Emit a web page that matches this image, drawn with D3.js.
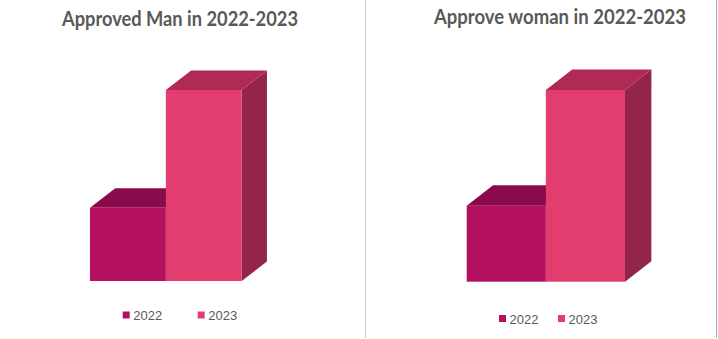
<!DOCTYPE html>
<html>
<head>
<meta charset="utf-8">
<script src="https://cdn.jsdelivr.net/npm/d3@7"></script>
<style>
  html, body { margin: 0; padding: 0; background: #fff; }
  svg { display: block; }
</style>
</head>
<body>
<svg id="chart" width="718" height="339"></svg>
<script>
// Years shown in each panel
const years = ["2022", "2023"];

// Approved counts per year
const menValues = [23, 60];
const womenValues = [25, 63];

// Panel titles
const titles = ["Approved Man in 2022-2023", "Approve woman in 2022-2023"];

// Colours: front, top and side faces per year
const frontColors = ["#b41160", "#e33c6e"];
const topColors = ["#8a0b4b", "#b02a55"];
const sideColors = ["#7a0a42", "#93244a"];

const svg = d3.select("#chart");

// Panel layout
const panels = [
  { values: menValues, title: titles[0], titleX: 180, titleW: 236, titleY: 26,
    x0: 90, x1: 241.7, base: 281, top: 90,
    legendY: 311.5, legendX: [122.7, 197.7] },
  { values: womenValues, title: titles[1], titleX: 560, titleW: 252, titleY: 24,
    x0: 466.7, x1: 625, base: 281.7, top: 90,
    legendY: 315, legendX: [499, 558] }
];

// Dividers
svg.append("line").attr("x1", 365.5).attr("x2", 365.5).attr("y1", 0).attr("y2", 338)
  .attr("stroke", "#d0d0d0").attr("stroke-width", 1);
svg.append("line").attr("x1", 716.5).attr("x2", 716.5).attr("y1", 0).attr("y2", 338)
  .attr("stroke", "#a8a8a8").attr("stroke-width", 1);

panels.forEach(p => {
  const g = svg.append("g");

  const x = d3.scaleBand().domain(years).range([p.x0, p.x1]).padding(0);
  const maxV = d3.max(p.values);
  const y = d3.scaleLinear().domain([0, maxV]).range([p.base, p.top]);

  const bw = x.bandwidth();
  const dx = bw * 0.333;
  const dy = dx * 0.775;

  years.forEach((yr, i) => {
    const v = p.values[i];
    const xl = x(yr), xr = xl + bw;
    const yt = y(v), yb = y(0);
    const bar = g.append("g");

    // side face
    bar.append("path")
      .attr("d", `M${xr},${yt} L${xr + dx},${yt - dy} L${xr + dx},${yb - dy} L${xr},${yb} Z`)
      .attr("fill", sideColors[i]);
    // top face
    bar.append("path")
      .attr("d", `M${xl},${yt} L${xl + dx},${yt - dy} L${xr + dx},${yt - dy} L${xr},${yt} Z`)
      .attr("fill", topColors[i]);
    // front face
    bar.append("rect")
      .attr("x", xl).attr("y", yt)
      .attr("width", bw).attr("height", yb - yt)
      .attr("fill", frontColors[i]);
  });

  // Title
  g.append("text")
    .attr("x", p.titleX).attr("y", p.titleY)
    .attr("text-anchor", "middle")
    .attr("font-family", "Lato, 'Liberation Sans', sans-serif")
    .attr("font-weight", "bold")
    .attr("font-size", 20)
    .attr("fill", "#595959")
    .attr("textLength", p.titleW)
    .attr("lengthAdjust", "spacingAndGlyphs")
    .text(p.title);

  // Legend
  years.forEach((yr, i) => {
    const lx = p.legendX[i];
    g.append("rect")
      .attr("x", lx).attr("y", p.legendY)
      .attr("width", 7).attr("height", 7)
      .attr("fill", frontColors[i]);
    g.append("text")
      .attr("x", lx + 10.5).attr("y", p.legendY + 8.5)
      .attr("font-family", "'Liberation Sans', Arial, sans-serif")
      .attr("font-size", 13)
      .attr("fill", "#595959")
      .text(yr);
  });
});
</script>
</body>
</html>
